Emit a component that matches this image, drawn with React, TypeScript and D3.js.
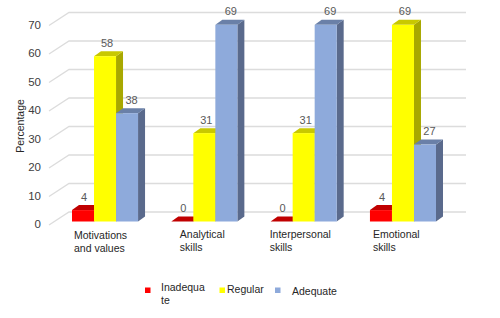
import React from "react";
import * as d3 from "d3";

const categories = [["Motivations", "and values"], ["Analytical", "skills"], ["Interpersonal", "skills"], ["Emotional", "skills"]];
const categoryKeys = ["Motivations and values", "Analytical skills", "Interpersonal skills", "Emotional skills"];
const seriesNames = ["Inadequate", "Regular", "Adequate"];
const inadequate = [4, 0, 0, 4];
const regular = [58, 31, 31, 69];
const adequate = [38, 69, 69, 27];
const seriesValues = [inadequate, regular, adequate];
const ticks = [0, 10, 20, 30, 40, 50, 60, 70];

const front = ["#ff0000", "#ffff00", "#8eaadb"];
const top = ["#c00000", "#c8c800", "#6a80a8"];
const side = ["#a00000", "#a8a800", "#5a6a8c"];
const labelShift = [1, 2, 4.5];
const categoryShift = [2, 8.5, -1, 3];

const DX = 7, DY = 5;
const font = "'Liberation Sans', Arial, sans-serif";

export default function App() {
  const y = d3.scaleLinear().domain([0, 70]).range([221.5, 22]);
  const x0 = d3.scaleBand<string>().domain(categoryKeys).range([72, 436]).paddingInner(0.335).paddingOuter(0);
  const x1 = d3.scaleBand<string>().domain(seriesNames).range([0, x0.bandwidth()]);
  const w = x1.bandwidth();

  return (
    <svg width={500} height={318} style={{ position: "absolute", left: 0, top: 0, background: "#fff" }} fontFamily={font}>
      {ticks.map((t) => (
        <g key={t}>
          <path d={`M49,${y(t) + 3.5}L69,${y(t) - 9.5}H466`} fill="none" stroke="#dcdcdc" strokeWidth={1.3} />
          <text x={41} y={y(t) + 6.5} textAnchor="end" fontSize={11.5} fill="#404040">{t}</text>
        </g>
      ))}
      <text transform="translate(24,126) rotate(-90)" textAnchor="middle" fontSize={10.5} fill="#262626">Percentage</text>

      {categoryKeys.map((c, ci) => (
        <g key={c}>
          {seriesNames.map((s, si) => {
            const v = seriesValues[si][ci];
            const bx = x0(c)! + x1(s)!;
            const by = y(v);
            const b0 = y(0);
            return (
              <g key={s}>
                <path d={`M${bx + w},${by}l${DX},${-DY}V${b0 - DY}l${-DX},${DY}Z`} fill={side[si]} />
                <path d={`M${bx},${by}l${DX},${-DY}h${w}l${-DX},${DY}Z`} fill={top[si]} />
                <rect x={bx} y={by} width={w} height={b0 - by} fill={front[si]} />
              </g>
            );
          })}
          {categories[ci].map((line, li) => (
            <text key={line} x={x0(c)! + categoryShift[ci]} y={(ci === 0 ? 239 : 238) + li * 13} fontSize={10.5} fill="#262626">{line}</text>
          ))}
        </g>
      ))}

      {categoryKeys.map((c, ci) =>
        seriesNames.map((s, si) => {
          const v = seriesValues[si][ci];
          return (
            <text key={c + s} x={x0(c)! + x1(s)! + w / 2 + labelShift[si]} y={y(v) - 9.5} textAnchor="middle" fontSize={11} fill="#595959">{v}</text>
          );
        })
      )}

      <rect x={145} y={287.5} width={5.5} height={5.5} fill={front[0]} />
      <text x={161} y={291} fontSize={10.5} fill="#262626">Inadequa</text>
      <text x={161} y={304} fontSize={10.5} fill="#262626">te</text>
      <rect x={219.5} y={287.5} width={5.5} height={5.5} fill={front[1]} />
      <text x={227} y={293} fontSize={10.5} fill="#262626">Regular</text>
      <rect x={275} y={287.5} width={5.5} height={5.5} fill={front[2]} />
      <text x={292} y={295} fontSize={10.5} fill="#262626">Adequate</text>
    </svg>
  );
}
